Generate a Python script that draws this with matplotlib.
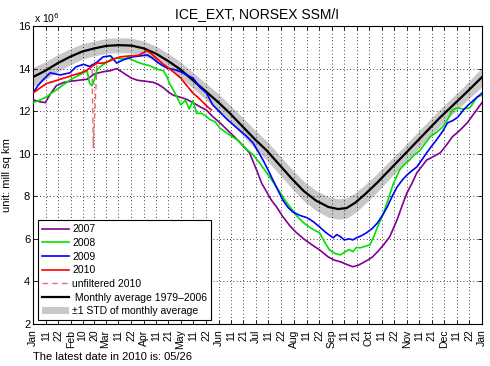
import numpy as np
import matplotlib
matplotlib.use("Agg")
import matplotlib.pyplot as plt
from matplotlib.patches import Patch
from matplotlib.lines import Line2D

plt.rcParams['font.family'] = ['Liberation Sans', 'DejaVu Sans']

# day of year -> sea ice extent (mill sq km)
days_2007 = [0, 5, 10, 14, 19, 25, 30, 37, 44, 50, 57, 63, 68, 72, 76, 80, 85, 92, 98, 102,
             106, 110, 114, 120, 125, 130, 136, 141, 146, 152, 160, 168, 176, 182, 186, 190,
             194, 198, 203, 209, 214, 220, 226, 233, 240, 245, 250, 255, 260, 264, 268, 272,
             276, 281, 285, 290, 293, 296, 300, 304, 308, 312, 316, 320, 325, 331, 336, 341,
             347, 353, 358, 365]
ext_2007 = [12.53, 12.45, 12.4, 12.8, 13.2, 13.35, 13.4, 13.45, 13.5, 13.75, 13.85, 13.9, 14.0,
            13.85, 13.7, 13.55, 13.45, 13.4, 13.35, 13.25, 13.1, 12.9, 12.75, 12.65, 12.55, 12.4,
            12.2, 12.05, 11.75, 11.45, 11.0, 10.55, 10.04, 9.2, 8.6, 8.2, 7.8, 7.5, 7.05, 6.6,
            6.3, 6.0, 5.75, 5.48, 5.15, 5.0, 4.92, 4.8, 4.69, 4.75, 4.87, 5.0, 5.15, 5.45, 5.72,
            6.1, 6.5, 6.9, 7.55, 8.16, 8.6, 9.1, 9.4, 9.7, 9.85, 10.04, 10.4, 10.8, 11.1, 11.45,
            11.85, 12.4]

days_2008 = [0, 5, 11, 15, 19, 25, 30, 36, 41, 44, 46, 48, 50, 52, 56, 60, 64, 68, 72, 77, 81,
             85, 90, 94, 98, 102, 106, 109, 111, 114, 117, 120, 124, 127, 130, 133, 137, 141,
             144, 148, 152, 158, 166, 172, 179, 185, 190, 196, 201, 205, 209, 214, 220, 226,
             233, 237, 241, 246, 250, 254, 257, 260, 263, 266, 270, 274, 277, 280, 285, 289,
             293, 298, 302, 306, 310, 315, 319, 323, 328, 333, 337, 341, 345, 349, 355, 358,
             361, 365]
ext_2008 = [12.4, 12.5, 12.67, 12.85, 13.0, 13.25, 13.46, 13.65, 13.8, 13.9, 13.3, 13.2, 13.5,
            13.95, 14.15, 14.3, 14.45, 14.5, 14.45, 14.5, 14.4, 14.3, 14.2, 14.15, 14.05, 13.95,
            13.9, 13.6, 13.3, 13.0, 12.67, 12.3, 12.5, 12.1, 12.5, 11.9, 11.9, 11.75, 11.6, 11.5,
            11.2, 10.95, 10.65, 10.3, 9.94, 9.5, 9.1, 8.6, 8.16, 7.8, 7.5, 7.1, 6.75, 6.5, 6.28,
            5.85, 5.48, 5.3, 5.25, 5.4, 5.5, 5.4, 5.6, 5.58, 5.65, 5.72, 6.1, 6.56, 7.2, 7.9, 8.6,
            9.24, 9.5, 9.7, 9.95, 10.18, 10.5, 10.8, 11.0, 11.26, 11.6, 12.06, 12.15, 12.1, 12.15,
            12.4, 12.67, 12.75]

days_2009 = [0, 4, 8, 14, 18, 22, 26, 30, 35, 41, 46, 52, 57, 63, 66, 68, 73, 81, 88, 93, 97,
             101, 105, 109, 115, 120, 125, 130, 136, 141, 146, 152, 158, 163, 168, 174, 179,
             183, 187, 191, 195, 199, 203, 207, 211, 217, 223, 228, 233, 238, 244, 247, 250,
             253, 257, 260, 263, 267, 271, 276, 280, 284, 288, 292, 296, 300, 304, 308, 312,
             316, 320, 324, 328, 333, 337, 341, 345, 350, 354, 358, 365]
ext_2009 = [12.85, 13.2, 13.46, 13.8, 13.75, 13.7, 13.75, 13.8, 14.08, 14.2, 14.1, 14.3, 14.55,
            14.6, 14.4, 14.26, 14.4, 14.55, 14.6, 14.64, 14.5, 14.3, 14.15, 14.02, 13.95, 13.85,
            13.7, 13.56, 13.1, 12.85, 12.3, 11.95, 11.6, 11.35, 11.1, 10.8, 10.5, 10.1, 9.7, 9.25,
            8.77, 8.3, 7.83, 7.5, 7.27, 7.1, 6.99, 6.8, 6.56, 6.3, 6.05, 6.2, 6.1, 5.95, 6.0,
            5.95, 6.05, 6.15, 6.28, 6.5, 6.75, 7.1, 7.5, 8.0, 8.44, 8.75, 9.0, 9.2, 9.38, 9.7,
            10.04, 10.35, 10.65, 11.05, 11.45, 11.55, 11.7, 12.06, 12.3, 12.5, 12.85]

days_2010 = [0, 6, 11, 17, 22, 28, 33, 39, 44, 48, 52, 56, 60, 66, 71, 76, 81, 86, 89, 93, 95,
             98, 102, 106, 109, 114, 120, 125, 130, 134, 138, 142, 145]
ext_2010 = [12.85, 13.1, 13.3, 13.4, 13.5, 13.6, 13.7, 13.8, 13.93, 14.1, 14.26, 14.25, 14.3,
            14.45, 14.55, 14.58, 14.6, 14.62, 14.73, 14.83, 14.75, 14.6, 14.4, 14.2, 14.08, 13.85,
            13.56, 13.2, 12.85, 12.65, 12.43, 12.2, 12.06]

# unfiltered 2010 has one bad value
unf_dip_day = 49
unf_dip_value = 10.3

days_mean = [0, 10, 20, 30, 40, 50, 60, 70, 80, 90, 100, 110, 120, 130, 140, 150, 160, 170, 180,
             190, 200, 210, 220, 230, 240, 248, 255, 262, 270, 280, 290, 300, 310, 320, 330, 340,
             350, 358, 365]
ext_mean = [13.6, 13.9, 14.25, 14.55, 14.8, 14.95, 15.07, 15.1, 15.08, 14.95, 14.7, 14.35, 13.95,
            13.45, 12.95, 12.45, 11.9, 11.3, 10.7, 10.15, 9.5, 8.85, 8.25, 7.8, 7.5, 7.4, 7.45,
            7.7, 8.1, 8.65, 9.25, 9.85, 10.45, 11.05, 11.65, 12.2, 12.75, 13.2, 13.6]
std_mean = [0.45, 0.42, 0.4, 0.38, 0.36, 0.35, 0.35, 0.35, 0.35, 0.35, 0.35, 0.35, 0.36, 0.37,
            0.38, 0.4, 0.4, 0.42, 0.44, 0.45, 0.45, 0.45, 0.46, 0.47, 0.48, 0.48, 0.48, 0.47,
            0.45, 0.43, 0.42, 0.4, 0.4, 0.4, 0.4, 0.4, 0.4, 0.42, 0.45]

month_names = ['Jan', 'Feb', 'Mar', 'Apr', 'May', 'Jun', 'Jul', 'Aug', 'Sep', 'Oct', 'Nov', 'Dec']
month_len = [31, 28, 31, 30, 31, 30, 31, 31, 30, 31, 30, 31]
mid_labels = [('11', '22'), ('10', '20'), ('11', '22'), ('11', '21'), ('11', '22'), ('11', '21'),
              ('11', '22'), ('11', '22'), ('11', '21'), ('11', '22'), ('11', '21'), ('11', '22')]

purple = '#800090'
green = '#00e000'
blue = '#0000ff'
red = '#ff0000'

fig = plt.figure(figsize=(4.9, 3.66), dpi=100)
ax = fig.add_axes([33 / 490, 1 - 324 / 366, 449 / 490, 298 / 366])

dm = np.array(days_mean)
em = np.array(ext_mean)
sm = np.array(std_mean)
ax.fill_between(dm, em - sm, em + sm, color='#c8c8c8', lw=0, zorder=1)

# unfiltered 2010 under the filtered one
i = int(np.searchsorted(days_2010, unf_dip_day))
unf_d = days_2010[:i] + [unf_dip_day] + days_2010[i:]
unf_v = ext_2010[:i] + [unf_dip_value] + ext_2010[i:]
ax.plot(unf_d, unf_v, color='#e07070', ls=(0, (4, 3)), lw=1.0, zorder=2)

ax.plot(dm, em, color='k', lw=1.6, zorder=3)
ax.plot(days_2007, ext_2007, color=purple, lw=1.2, zorder=4)
ax.plot(days_2008, ext_2008, color=green, lw=1.2, zorder=4)
ax.plot(days_2009, ext_2009, color=blue, lw=1.2, zorder=4)
ax.plot(days_2010, ext_2010, color=red, lw=1.2, zorder=5)

# ticks at month thirds
ticks, labels = [], []
start = 0
for name, n, (a, b) in zip(month_names, month_len, mid_labels):
    ticks += [start, start + n / 3, start + 2 * n / 3]
    labels += [name, a, b]
    start += n
ticks.append(start)
labels.append('Jan')

ax.set_xlim(0, 365)
ax.set_ylim(2, 16)
ax.set_xticks(ticks)
ax.set_xticklabels(labels, rotation=90, fontsize=7.5)
ax.set_yticks(range(2, 17, 2))
ax.tick_params(axis='y', labelsize=8, pad=2)
ax.tick_params(axis='x', pad=4)
ax.tick_params(direction='in', length=3, width=0.6, top=True, right=True)
ax.grid(True, color='k', ls=(0, (1, 3)), lw=0.6)
for s in ax.spines.values():
    s.set_linewidth(0.8)

ax.set_title('ICE_EXT, NORSEX SSM/I', fontsize=10, pad=6)
fig.text(34 / 490, 1 - 18 / 366, r'x 10$^6$', fontsize=7.5, va='center')
ax.set_ylabel('unit: mill sq km', fontsize=8, labelpad=4)
fig.text(33 / 490, 1 - 357 / 366, 'The latest date in 2010 is: 05/26', fontsize=8, va='center')

handles = [
    Line2D([], [], color=purple, lw=1.2),
    Line2D([], [], color=green, lw=1.2),
    Line2D([], [], color=blue, lw=1.2),
    Line2D([], [], color=red, lw=1.2),
    Line2D([], [], color='#e07070', ls=(0, (4, 3)), lw=1.0),
    Line2D([], [], color='k', lw=1.6),
    Patch(facecolor='#c8c8c8', edgecolor='none'),
]
names = ['2007', '2008', '2009', '2010', 'unfiltered 2010',
         ' Monthly average 1979\u20132006', '\u00b11 STD of monthly average']
leg = ax.legend(handles, names, loc='lower left', bbox_to_anchor=(0.006, 0.005), fontsize=7.5,
                fancybox=False, framealpha=1, edgecolor='k', borderpad=0.4, labelspacing=0.35,
                handlelength=2.6, handletextpad=0.3, borderaxespad=0.2)
leg.get_frame().set_linewidth(0.8)
leg.set_zorder(10)

fig.savefig('out.png', dpi=100)
